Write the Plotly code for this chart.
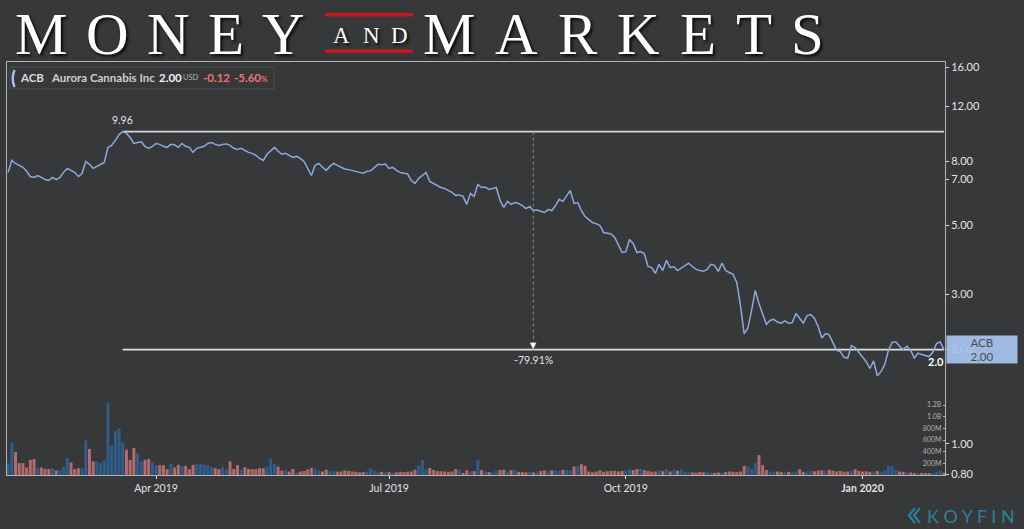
import math
import pandas as pd
import plotly.graph_objects as go

# ---------------- data ----------------
holidays = ["2019-02-18", "2019-04-19", "2019-05-27", "2019-07-04", "2019-09-02",
            "2019-11-28", "2019-12-25", "2020-01-01", "2020-01-20"]
dates = [d.strftime("%Y-%m-%d") for d in pd.bdate_range("2019-02-01", "2020-02-05")
         if d.strftime("%Y-%m-%d") not in holidays]

price = [
    7.38, 8.06, 7.88, 7.77, 7.66, 7.44, 7.16, 7.11, 7.21, 7.11,
    7.00, 6.95, 7.11, 7.00, 7.11, 7.38, 7.60, 7.49, 7.38, 7.16,
    7.33, 8.00, 7.83, 7.60, 7.71, 7.83, 7.94, 8.87, 9.00, 9.34,
    9.75, 9.96, 9.83, 9.54, 9.13, 9.20, 9.24, 8.94, 8.81, 8.94,
    9.13, 9.07, 8.94, 8.87, 9.07, 9.04, 8.87, 9.13, 8.94, 8.87,
    8.55, 8.81, 8.87, 8.94, 9.13, 9.20, 9.07, 9.00, 9.07, 9.10,
    9.00, 8.81, 8.74, 8.81, 8.68, 8.55, 8.49, 8.36, 8.18, 8.06,
    8.43, 8.68, 8.87, 8.62, 8.43, 8.49, 8.36, 8.24, 8.30, 8.18,
    8.00, 7.60, 7.21, 7.77, 7.88, 7.66, 7.49, 7.71, 7.88, 7.77,
    7.66, 7.57, 7.53, 7.49, 7.44, 7.38, 7.33, 7.44, 7.46, 7.66,
    7.83, 7.80, 7.85, 7.60, 7.66, 7.49, 7.38, 7.33, 7.30, 6.95,
    6.80, 7.06, 7.21, 7.38, 6.90, 6.80, 6.70, 6.60, 6.55, 6.46,
    6.37, 6.23, 6.25, 6.18, 5.83, 6.32, 6.18, 6.75, 6.60, 6.62,
    6.51, 6.55, 6.60, 6.00, 5.70, 5.96, 5.83, 5.91, 5.87, 5.78,
    5.65, 5.74, 5.57, 5.59, 5.53, 5.49, 5.61, 5.57, 5.78, 6.05,
    5.96, 6.18, 6.46, 5.87, 5.91, 5.57, 5.33, 5.21, 5.10, 5.06,
    4.99, 4.74, 4.71, 4.69, 4.57, 4.34, 4.09, 4.11, 4.50, 4.37,
    4.09, 4.12, 4.06, 3.69, 3.66, 3.51, 3.75, 3.58, 3.86, 3.66,
    3.68, 3.58, 3.64, 3.72, 3.78, 3.69, 3.61, 3.58, 3.56, 3.61,
    3.75, 3.72, 3.56, 3.78, 3.58, 3.53, 3.48, 3.28, 2.77, 2.25,
    2.34, 2.67, 3.09, 2.81, 2.59, 2.41, 2.48, 2.50, 2.45, 2.43,
    2.47, 2.43, 2.44, 2.61, 2.52, 2.43, 2.57, 2.59, 2.52, 2.37,
    2.18, 2.25, 2.23, 2.11, 1.99, 1.97, 1.89, 1.88, 2.06, 2.03,
    1.96, 1.89, 1.83, 1.74, 1.84, 1.65, 1.70, 1.79, 1.99, 2.11,
    2.12, 2.05, 2.00, 2.05, 1.99, 1.88, 1.95, 1.93, 1.92, 1.90,
    1.96, 2.09, 2.1186, 2.00,
]

volume_m = [  # millions of shares
    203, 550, 395, 203, 203, 128, 260, 272, 128, 128,
    104, 104, 116, 75, 87, 145, 290, 215, 99, 116,
    116, 592, 447, 232, 232, 203, 250, 1230, 505, 754,
    800, 551, 435, 261, 464, 377, 232, 261, 272, 215,
    168, 168, 168, 99, 191, 128, 174, 157, 157, 99,
    174, 191, 186, 174, 174, 133, 116, 99, 133, 99,
    232, 104, 168, 87, 133, 104, 99, 99, 116, 116,
    145, 278, 191, 145, 75, 87, 58, 104, 46, 58,
    70, 95, 120, 110, 75, 60, 90, 65, 70, 55,
    60, 80, 70, 60, 55, 45, 50, 60, 110, 75,
    50, 55, 45, 50, 40, 45, 55, 50, 55, 60,
    90, 157, 255, 95, 120, 85, 70, 65, 60, 55,
    60, 100, 90, 30, 80, 60, 65, 255, 85, 60,
    50, 45, 75, 85, 90, 60, 85, 90, 55, 50,
    45, 50, 45, 60, 70, 80, 70, 80, 75, 70,
    90, 80, 85, 145, 145, 186, 157, 60, 45, 60,
    80, 55, 65, 70, 70, 60, 70, 80, 100, 85,
    100, 110, 85, 70, 55, 60, 85, 65, 100, 60,
    85, 70, 100, 55, 60, 45, 40, 50, 45, 50,
    40, 35, 45, 40, 50, 60, 55, 50, 60, 157,
    145, 100, 203, 342, 168, 87, 60, 55, 60, 50,
    45, 55, 50, 65, 99, 55, 60, 70, 65, 75,
    80, 70, 90, 75, 60, 70, 55, 60, 65, 99,
    70, 60, 65, 55, 60, 70, 55, 75, 157, 157,
    90, 60, 55, 45, 40, 35, 35, 30, 35, 30,
    35, 50, 70, 40, 45,
]

n = min(len(dates), len(price), len(volume_m))
dates, price, volume_m = dates[:n], price[:n], volume_m[:n]

tick_dates = ["2019-04-01", "2019-07-01", "2019-10-01", "2020-01-02"]
tick_labels = ["Apr 2019", "Jul 2019", "Oct 2019", "<b>Jan 2020</b>"]
price_ticks = [0.8, 1, 2, 3, 5, 7, 8, 12, 16]
price_ticktext = ["0.80", "1.00", "2.00", "3.00", "5.00", "7.00", "8.00", "12.00", "16.00"]
vol_ticks = [200, 400, 600, 800, 1000, 1200]
vol_ticktext = ["200M", "400M", "600M", "800M", "1.0B", "1.2B"]

ticker = "ACB"
company = "Aurora Cannabis Inc"
drawdown_text = "-79.91%"
header_money = "MONEY"
header_and = "AND"
header_markets = "MARKETS"

# ---------------- styling ----------------
BG = "#37383a"
UP = "#2f5e8a"
DOWN = "#b56b6b"
FLAT = "#8c8c8c"
LINE = "#8aaade"
AXIS = "#b4b4b4"
TXT = "#e4e4e4"

L, R, T, B = 7, 945, 62, 475
W, H = R - L, B - T


def px(x):
    return (x - L) / W


def py(y):
    return (B - y) / H


colors = [UP]
for i in range(1, n):
    if price[i] > price[i - 1]:
        colors.append(UP)
    elif price[i] < price[i - 1]:
        colors.append(DOWN)
    else:
        colors.append(FLAT)

peak_idx = max(range(n), key=lambda i: price[i])
peak = price[peak_idx]
last = price[-1]
mid_idx = (peak_idx + n - 1) // 2

fig = go.Figure()
fig.add_trace(go.Bar(x=dates, y=volume_m, yaxis="y2", marker=dict(color=colors, line=dict(width=0)),
                     width=0.8, hoverinfo="skip"))
fig.add_trace(go.Scatter(x=[dates[peak_idx], dates[-1]], y=[peak, peak], mode="lines",
                         line=dict(color="#d6d6d6", width=1.6), hoverinfo="skip"))
fig.add_trace(go.Scatter(x=[dates[peak_idx], dates[-1]], y=[last, last], mode="lines",
                         line=dict(color="#e0e0e0", width=1.6), hoverinfo="skip"))
fig.add_trace(go.Scatter(x=[dates[mid_idx], dates[mid_idx]], y=[peak, last], mode="lines",
                         line=dict(color="#8a8a8a", width=1, dash="dot"), hoverinfo="skip"))
fig.add_trace(go.Scatter(x=dates, y=price, mode="lines", line=dict(color=LINE, width=1.5)))

shapes = []
# header red bars
for y0, y1 in [(13, 16.5), (49.5, 53)]:
    shapes.append(dict(type="rect", xref="paper", yref="paper", x0=px(325), x1=px(413),
                       y0=py(y1), y1=py(y0), fillcolor="#c8161d", line=dict(width=0), layer="above"))
# legend box
shapes.append(dict(type="rect", xref="paper", yref="paper", x0=px(10), x1=px(274), y0=py(89), y1=py(67),
                   line=dict(color="#4b4c4f", width=1), fillcolor=BG, layer="above"))
shapes.append(dict(type="path", xref="paper", yref="paper",
                   path=f"M {px(14.5)},{py(70)} Q {px(11)},{py(78.5)} {px(14.5)},{py(87)}",
                   line=dict(color="#a3c0ee", width=2.5), layer="above"))
# koyfin chevrons
for dx in (0, 5):
    shapes.append(dict(type="path", xref="paper", yref="paper",
                       path=f"M {px(915+dx)},{py(508)} L {px(909+dx)},{py(515.5)} L {px(915+dx)},{py(523)}",
                       line=dict(color="#2a8199", width=2.2)))

ann = []
serif = "Liberation Serif"
shadow = "2px 2px 3px rgba(0,0,0,0.85)"
money_x = [41, 107, 168, 226, 283.5]
markets_x = [449, 516.5, 577.5, 638.5, 697.5, 753.5, 807.5]
and_x = [341, 371, 399]
for ch, xc in zip(header_money, money_x):
    ann.append(dict(xref="paper", yref="paper", x=px(xc), y=py(34), text=ch, showarrow=False,
                    xanchor="center", yanchor="middle", borderpad=0,
                    font=dict(family=serif, size=59, color="white", shadow=shadow)))
for ch, xc in zip(header_markets, markets_x):
    ann.append(dict(xref="paper", yref="paper", x=px(xc), y=py(34), text=ch, showarrow=False,
                    xanchor="center", yanchor="middle", borderpad=0,
                    font=dict(family=serif, size=59, color="white", shadow=shadow)))
for ch, xc in zip(header_and, and_x):
    ann.append(dict(xref="paper", yref="paper", x=px(xc), y=py(35.5), text=ch, showarrow=False,
                    xanchor="center", yanchor="middle",
                    font=dict(family=serif, size=23, color="white", shadow=shadow)))

# legend text
leg_y = py(78)
def leg(x, text, size=11.5, color="#d9d9d9", weight="normal"):
    ann.append(dict(xref="paper", yref="paper", x=px(x), y=leg_y, text=text, showarrow=False,
                    xanchor="left", yanchor="middle",
                    font=dict(family="Lato", size=size, color=color, weight=weight)))

chg = last - price[-2]
pct = chg / price[-2] * 100
leg(18, ticker, weight="bold")
leg(49, company, weight="bold", color="#cfcfcf")
leg(157, f"{last:.2f}", weight="bold", color="#f2f2f2")
leg(181, "USD", size=7.5, color="#b0b0b0")
leg(201, f"{chg:.2f}", color="#ee7373", weight="bold")
ann.append(dict(xref="paper", yref="paper", x=px(232), y=leg_y,
                text=f"{pct:.2f}<span style='font-size:8px'>%</span>", showarrow=False,
                xanchor="left", yanchor="middle",
                font=dict(family="Lato", size=11.5, color="#ee7373", weight="bold")))

# chart annotations
ann.append(dict(x=dates[peak_idx], y=math.log10(peak), text=f"{peak:.2f}", showarrow=False,
                yanchor="bottom", yshift=4, font=dict(family="Lato", size=10.5, color=TXT)))
ann.append(dict(x=dates[mid_idx], y=math.log10(last), text="▼", showarrow=False,
                yanchor="bottom", yshift=-2, font=dict(family="DejaVu Sans", size=8, color="white")))
ann.append(dict(x=dates[mid_idx], y=math.log10(last), text=drawdown_text, showarrow=False,
                yanchor="top", yshift=-2, font=dict(family="Lato", size=10.5, color=TXT)))
ann.append(dict(xref="paper", x=1, y=math.log10(last), text=f"{last:.1f}", showarrow=False,
                xanchor="right", yanchor="top", xshift=1, yshift=-3,
                font=dict(family="Lato", size=11, color="white", weight="bold")))
ann.append(dict(xref="paper", x=1, y=math.log10(last), text=f"{ticker}<br>{last:.2f}", showarrow=False,
                xanchor="left", yanchor="middle", xshift=1, width=70, height=27, borderpad=0,
                bgcolor="#a8c4ef", opacity=0.92, align="center",
                font=dict(family="Lato", size=11.5, color="#4d4f55")))
ann.append(dict(xref="paper", yref="paper", x=px(925), y=py(515.5), text="K O Y F I N", showarrow=False,
                xanchor="left", yanchor="middle",
                font=dict(family="Lato", size=18, color="#2a8199")))

fig.update_layout(
    width=1024, height=529,
    margin=dict(l=L, r=1024 - R, t=T, b=529 - B),
    paper_bgcolor=BG, plot_bgcolor=BG,
    showlegend=False, bargap=0.2,
    shapes=shapes, annotations=ann,
    font=dict(family="Lato", color=TXT),
    xaxis=dict(type="category", range=[-0.3, n - 1 + 0.3], tickmode="array",
               tickvals=tick_dates, ticktext=tick_labels, ticks="outside", ticklen=3,
               tickcolor="#dddddd", tickfont=dict(family="Lato", size=10.5, color=TXT),
               showline=True, linecolor=AXIS, linewidth=1, mirror=True, showgrid=False,
               fixedrange=True),
    yaxis=dict(type="log", range=[-0.1001, 1.2211], side="right", tickmode="array",
               tickvals=price_ticks, ticktext=price_ticktext, ticks="outside", ticklen=3,
               tickcolor="#dddddd", tickfont=dict(family="Lato", size=11, color=TXT),
               showline=True, linecolor=AXIS, linewidth=1, mirror=True, showgrid=False,
               zeroline=False),
    yaxis2=dict(overlaying="y", side="right", range=[0, 7080], tickmode="array",
                tickvals=vol_ticks, ticktext=vol_ticktext, ticks="inside", ticklen=2,
                tickcolor="#bbbbbb", ticklabelposition="inside",
                tickfont=dict(family="Lato", size=7, color="#b0b0b0"),
                showline=False, showgrid=False, zeroline=False),
)

fig.write_html("out.html", config={"displayModeBar": False},
               post_script="document.body.style.margin='0';")
